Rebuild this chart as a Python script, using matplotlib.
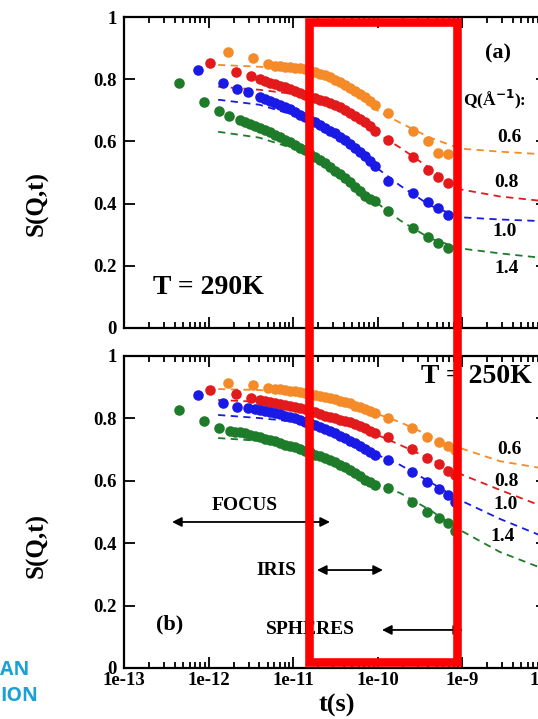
import matplotlib
matplotlib.use("Agg")
import matplotlib.pyplot as plt
from matplotlib.patches import Rectangle
from matplotlib import transforms
import matplotlib.ticker as mticker

plt.rcParams['font.family'] = ['Liberation Serif', 'DejaVu Serif']
plt.rcParams['font.weight'] = 'bold'

# ---------------- data ----------------
q_labels = ["0.6", "0.8", "1.0", "1.4"]
colors = ["#F58B28", "#E31A1C", "#1A1AE6", "#1E7B2A"]

# common dense time grid (s)
t_dense = [1.80e-12, 2.06e-12, 2.36e-12, 2.70e-12, 3.10e-12, 3.55e-12, 4.07e-12, 4.66e-12,
           5.34e-12, 6.12e-12, 7.02e-12, 8.04e-12, 9.21e-12, 1.06e-11, 1.21e-11, 1.39e-11,
           1.59e-11, 1.82e-11, 2.09e-11, 2.39e-11, 2.74e-11, 3.14e-11, 3.60e-11, 4.12e-11,
           4.73e-11, 5.42e-11, 6.21e-11, 7.11e-11, 8.15e-11, 9.34e-11]

# early (sparse) times per Q
t_early_06 = [1.7e-12, 3.4e-12, 5.1e-12]
t_early_08 = [1.04e-12, 2.1e-12, 3.2e-12]
t_early_10 = [7.5e-13, 1.5e-12, 2.2e-12, 2.9e-12]
t_early_14a = [4.5e-13, 8.9e-13, 1.33e-12, 1.75e-12]
t_early_14b = [4.5e-13, 8.9e-13, 1.33e-12]

# late (sparse) times
t_late_a = [1.33e-10, 2.63e-10, 3.96e-10, 5.2e-10, 6.8e-10]
t_late_b = [1.33e-10, 2.56e-10, 3.9e-10, 5.4e-10, 6.8e-10, 8.3e-10]

# ---- panel (a), T = 290K ----
a_early = [[0.888, 0.869, 0.849],
           [0.853, 0.824, 0.811],
           [0.830, 0.788, 0.769, 0.760],
           [0.788, 0.728, 0.699, 0.683]]
a_dense_start = [9, 6, 6, 2]
a_dense_06 = [0.843, 0.841, 0.840, 0.838, 0.837, 0.835, 0.832, 0.827, 0.822, 0.817, 0.813,
              0.806, 0.798, 0.792, 0.782, 0.772, 0.763, 0.753, 0.744, 0.731, 0.718]
a_dense_08 = [0.801, 0.795, 0.788, 0.784, 0.779, 0.774, 0.769, 0.763, 0.756, 0.750, 0.744, 0.739,
              0.734, 0.729, 0.724, 0.718, 0.710, 0.702, 0.692, 0.683, 0.673, 0.662, 0.651, 0.635]
a_dense_10 = [0.744, 0.737, 0.731, 0.724, 0.718, 0.712, 0.704, 0.696, 0.686, 0.678, 0.670, 0.662,
              0.654, 0.644, 0.635, 0.627, 0.615, 0.606, 0.593, 0.580, 0.567, 0.553, 0.538, 0.522]
a_dense_14 = [0.670, 0.663, 0.657, 0.651, 0.644, 0.638, 0.630, 0.622, 0.614, 0.606, 0.598, 0.590,
              0.580, 0.571, 0.561, 0.551, 0.540, 0.529, 0.518, 0.506, 0.494, 0.481, 0.468, 0.454,
              0.439, 0.426, 0.415, 0.407]
a_late = [[0.690, 0.635, 0.600, 0.564, 0.558],
          [0.603, 0.550, 0.508, 0.484, 0.467],
          [0.474, 0.433, 0.404, 0.385, 0.362],
          [0.375, 0.321, 0.292, 0.272, 0.256]]

# ---- panel (b), T = 250K ----
b_early = [[0.913, 0.907, 0.897],
           [0.891, 0.878, 0.865],
           [0.875, 0.849, 0.837, 0.833],
           [0.827, 0.792, 0.769]]
b_dense_start = [9, 6, 5, 0]
b_dense_06 = [0.894, 0.893, 0.891, 0.889, 0.888, 0.885, 0.881, 0.878, 0.875, 0.872, 0.869,
              0.865, 0.862, 0.857, 0.853, 0.848, 0.841, 0.837, 0.830, 0.824, 0.817]
b_dense_08 = [0.859, 0.856, 0.853, 0.849, 0.846, 0.843, 0.840, 0.837, 0.833, 0.829, 0.824, 0.819,
              0.814, 0.809, 0.804, 0.801, 0.796, 0.792, 0.787, 0.782, 0.776, 0.769, 0.761, 0.753]
b_dense_10 = [0.830, 0.827, 0.824, 0.821, 0.817, 0.814, 0.809, 0.804, 0.800, 0.795, 0.790, 0.785,
              0.779, 0.772, 0.766, 0.760, 0.753, 0.745, 0.737, 0.729, 0.721, 0.712, 0.702, 0.692,
              0.683]
b_dense_14 = [0.761, 0.758, 0.755, 0.752, 0.747, 0.744, 0.739, 0.734, 0.731, 0.726, 0.721, 0.716,
              0.712, 0.707, 0.702, 0.697, 0.691, 0.684, 0.679, 0.673, 0.667, 0.660, 0.651, 0.643,
              0.635, 0.625, 0.615, 0.604, 0.595, 0.587]
b_late = [[0.801, 0.769, 0.740, 0.724, 0.712, 0.699],
          [0.740, 0.702, 0.673, 0.654, 0.631, 0.619],
          [0.667, 0.628, 0.596, 0.574, 0.554, 0.532],
          [0.577, 0.532, 0.500, 0.481, 0.465, 0.439]]

# fit curves (dashed)
t_fit = [1.3e-12, 4e-12, 1.2e-11, 3.6e-11, 1e-10, 1.85e-10, 4.2e-10, 9.5e-10, 2.8e-9, 1e-8]
a_fit = [[0.846, 0.840, 0.830, 0.785, 0.699, 0.660, 0.612, 0.577, 0.567, 0.558],
         [0.776, 0.766, 0.750, 0.705, 0.625, 0.580, 0.513, 0.446, 0.423, 0.407],
         [0.734, 0.718, 0.679, 0.609, 0.513, 0.458, 0.394, 0.356, 0.349, 0.343],
         [0.631, 0.612, 0.571, 0.487, 0.401, 0.346, 0.288, 0.256, 0.240, 0.224]]
b_fit = [[0.894, 0.891, 0.878, 0.859, 0.814, 0.788, 0.744, 0.705, 0.663, 0.638],
         [0.859, 0.853, 0.833, 0.795, 0.747, 0.715, 0.670, 0.622, 0.571, 0.513],
         [0.811, 0.801, 0.788, 0.737, 0.683, 0.651, 0.596, 0.538, 0.478, 0.417],
         [0.737, 0.728, 0.705, 0.654, 0.587, 0.561, 0.506, 0.442, 0.372, 0.314]]

# Q label positions (t, S) in each panel
a_qlab_pos = [(3.6e-9, 0.612), (3.4e-9, 0.467), (3.2e-9, 0.31), (3.4e-9, 0.19)]
b_qlab_pos = [(3.6e-9, 0.70), (3.4e-9, 0.598), (3.3e-9, 0.523), (3.0e-9, 0.42)]

# instrument windows
instruments = ["FOCUS", "IRIS", "SPHERES"]
inst_range = [(3.7e-13, 2.74e-11), (1.92e-11, 1.16e-10), (1.13e-10, 1.03e-9)]
inst_y = [0.468, 0.314, 0.122]
inst_label_t = [2.7e-12, 6.4e-12, 1.6e-11]
inst_label_y = [0.522, 0.314, 0.122]

highlight_range = [1.55e-11, 8.7e-10]

xticks = [1e-13, 1e-12, 1e-11, 1e-10, 1e-9, 1e-8]
xticklabels = ["1e-13", "1e-12", "1e-11", "1e-10", "1e-9", "1e-8"]
yticks = [0, 0.2, 0.4, 0.6, 0.8, 1.0]
yticklabels = ["0", "0.2", "0.4", "0.6", "0.8", "1"]

# ---------------- figure ----------------
W, H = 538, 719
fig = plt.figure(figsize=(W / 100, H / 100), dpi=100)

left = 124 / W
width = (546.5 - 124) / W
ax_a = fig.add_axes([left, 1 - 328 / H, width, (328 - 17) / H])
ax_b = fig.add_axes([left, 1 - 668 / H, width, (668 - 356) / H])

a_dense = [a_dense_06, a_dense_08, a_dense_10, a_dense_14]
b_dense = [b_dense_06, b_dense_08, b_dense_10, b_dense_14]
early_t = [t_early_06, t_early_08, t_early_10]


def draw_panel(ax, early_vals, early_times, dense_vals, dense_start, late_t, late_vals, fit_vals):
    for i in range(4):
        ax.plot(t_fit, fit_vals[i], ls=(0, (4, 3)), lw=1.3, color=colors[i], zorder=2)
        t_all = early_times[i] + t_dense[dense_start[i]:dense_start[i] + len(dense_vals[i])] + late_t
        s_all = early_vals[i] + dense_vals[i] + late_vals[i]
        ax.plot(t_all, s_all, 'o', ms=7.6, mew=0, color=colors[i], zorder=3)
    ax.set_xscale('log')
    ax.set_xlim(1e-13, 1e-8)
    ax.set_ylim(0, 1)
    ax.set_yticks(yticks)
    ax.set_yticklabels(yticklabels)
    ax.set_xticks(xticks)
    ax.xaxis.set_minor_locator(mticker.LogLocator(base=10, subs=range(2, 10), numticks=20))
    ax.xaxis.set_minor_formatter(mticker.NullFormatter())
    ax.tick_params(which='both', direction='in', top=True, right=True, labelsize=13.5,
                   width=1.3, pad=5)
    ax.tick_params(which='major', length=8)
    ax.tick_params(which='minor', length=4)
    for sp in ax.spines.values():
        sp.set_linewidth(1.6)


draw_panel(ax_a, a_early, early_t + [t_early_14a], a_dense, a_dense_start, t_late_a, a_late, a_fit)
draw_panel(ax_b, b_early, early_t + [t_early_14b], b_dense, b_dense_start, t_late_b, b_late, b_fit)

ax_a.set_xticklabels([])
ax_b.set_xticklabels(xticklabels)
ax_b.tick_params(axis='x', pad=3)
for lab in ax_b.get_xticklabels():
    lab.set_fontweight('bold')

# texts panel (a)
ax_a.text(0.886, 0.884, "(a)", transform=ax_a.transAxes, fontsize=16, ha='center', va='center')
ax_a.text(0.878, 0.735, "Q(Å$^{\\mathbf{-1}}$):", transform=ax_a.transAxes, fontsize=12.5,
          ha='center', va='center')
ax_a.text(0.069, 0.129, "T = 290K", transform=ax_a.transAxes, fontsize=20, ha='left', va='center')
for i in range(4):
    ax_a.text(a_qlab_pos[i][0], a_qlab_pos[i][1], q_labels[i], fontsize=14, ha='center', va='center')
    ax_b.text(b_qlab_pos[i][0], b_qlab_pos[i][1], q_labels[i], fontsize=14, ha='center', va='center')

# texts panel (b)
ax_b.text(0.703, 0.933, "T = 250K", transform=ax_b.transAxes, fontsize=20, ha='left', va='center')
ax_b.text(0.109, 0.138, "(b)", transform=ax_b.transAxes, fontsize=16, ha='center', va='center')
for i in range(3):
    ax_b.annotate("", xy=(inst_range[i][0], inst_y[i]), xytext=(inst_range[i][1], inst_y[i]),
                  arrowprops=dict(arrowstyle='<|-|>', color='black', lw=1.3,
                                  mutation_scale=14, shrinkA=0, shrinkB=0))
    ax_b.text(inst_label_t[i], inst_label_y[i], instruments[i], fontsize=14, ha='center', va='center')

fig.text(37 / W, 1 - 203 / H, "S(Q,t)", rotation=90, fontsize=18, ha='center', va='center')
fig.text(37 / W, 1 - 545 / H, "S(Q,t)", rotation=90, fontsize=18, ha='center', va='center')
fig.text(337 / W, 1 - 717 / H, "t(s)", fontsize=19, ha='center', va='bottom')

# highlight box (x in data coordinates, y in figure coordinates)
trans = transforms.blended_transform_factory(ax_b.transData, fig.transFigure)
rect = Rectangle((highlight_range[0], 1 - 662 / H), highlight_range[1] - highlight_range[0],
                 (662 - 22) / H, transform=trans, fill=False, edgecolor='#FF0000', lw=6.2,
                 zorder=10, clip_on=False)
fig.add_artist(rect)

# cropped slide text
fig.text(0 / W, 1 - 670 / H, "AN", fontsize=14, color='#1BA1D6', family='Open Sans',
         fontweight='bold', ha='left', va='center')
fig.text(0 / W, 1 - 696 / H, "ION", fontsize=14, color='#1BA1D6', family='Open Sans',
         fontweight='bold', ha='left', va='center')

fig.savefig("out.png", dpi=100)
